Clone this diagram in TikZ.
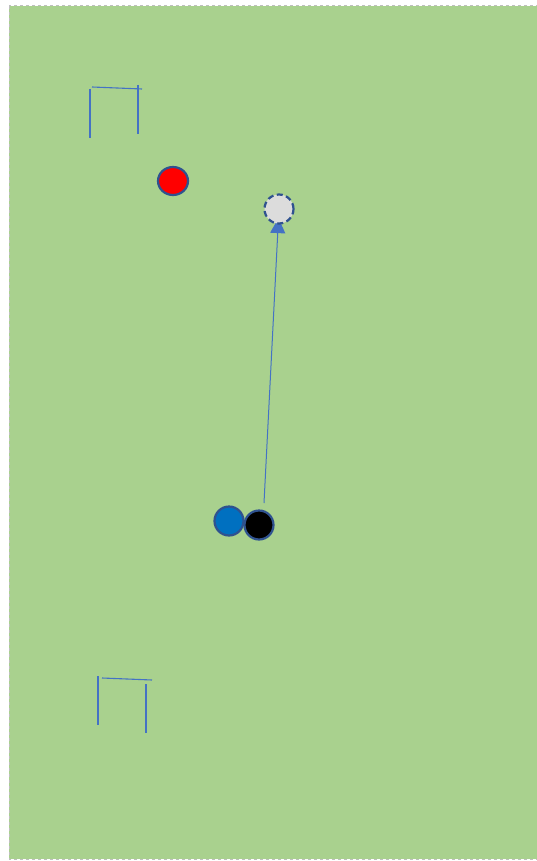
\documentclass[tikz,border=0pt]{standalone}
\usetikzlibrary{arrows.meta,shapes.geometric}
\definecolor{field}{HTML}{A9D18E}
\definecolor{fieldborder}{HTML}{BFBFBF}
\definecolor{lineblue}{HTML}{4472C4}
\definecolor{darkblue}{HTML}{2F528F}
\definecolor{ballblue}{HTML}{0070C0}
\definecolor{ghost}{HTML}{DCDCDC}
\pgfdeclarelayer{fieldlayer}
\pgfdeclarelayer{arrowlayer}
\pgfsetlayers{fieldlayer,arrowlayer,main}
\tikzset{
  goalline/.style={draw=lineblue, line width=1.1pt},
  player/.style={circle, draw=darkblue, line width=2.2pt, minimum size=29pt, inner sep=0pt},
  pass/.style={draw=lineblue, line width=1pt, -{Triangle[width=15pt,length=15pt]}}
}
\begin{document}
\begin{tikzpicture}[x=1pt,y=-1pt]
\useasboundingbox (0,0) rectangle (537,861);
\begin{pgfonlayer}{fieldlayer}
\fill[field] (9,6) rectangle (540,859);
\draw[fieldborder, dashed, line width=1pt] (9,6) rectangle (540,859);
\end{pgfonlayer}
% top goal
\coordinate (tg1) at (90,89); \coordinate (tg2) at (90,138);
\coordinate (tg3) at (92,87); \coordinate (tg4) at (142,89);
\coordinate (tg5) at (138,85); \coordinate (tg6) at (138,134);
\draw[goalline] (tg1) -- (tg2);
\draw[goalline] (tg3) -- (tg4);
\draw[goalline] (tg5) -- (tg6);
% bottom goal
\coordinate (bg1) at (98,676); \coordinate (bg2) at (98,725);
\coordinate (bg3) at (102,678); \coordinate (bg4) at (152,680);
\coordinate (bg5) at (146,684); \coordinate (bg6) at (146,733);
\draw[goalline] (bg1) -- (bg2);
\draw[goalline] (bg3) -- (bg4);
\draw[goalline] (bg5) -- (bg6);
% players
\node[player, ellipse, fill=red, minimum width=30pt, minimum height=28pt] (red) at (173,181) {};
\node[player, fill=ghost, dash pattern=on 6pt off 3.5pt] (ghost) at (279,209) {};
\node[player, fill=ballblue] (blue) at (229,521) {};
\node[player, fill=black] (black) at (259,525) {};
\coordinate (start) at (264,503);
\begin{pgfonlayer}{arrowlayer}
\draw[pass] (start) -- ([xshift=-0.5pt,yshift=6.5pt]ghost.south);
\end{pgfonlayer}
\end{tikzpicture}
\end{document}
